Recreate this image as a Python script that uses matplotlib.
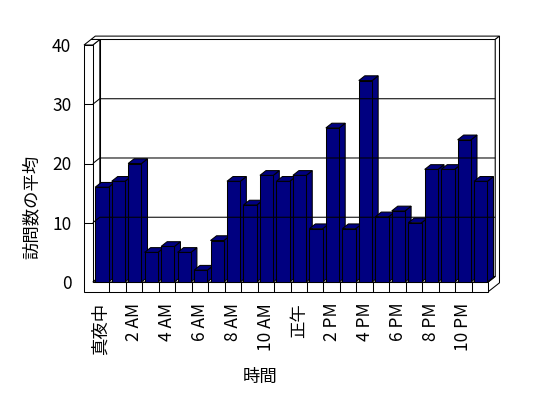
import matplotlib
matplotlib.use('Agg')
import matplotlib.pyplot as plt
from matplotlib.patches import Polygon

plt.rcParams['font.family'] = ['Noto Sans CJK JP', 'DejaVu Sans']

# データ (時間ごとの訪問数の平均)
hours = list(range(24))
visits = [16, 17, 20, 5, 6, 5, 2, 7, 17, 13, 18, 17,
          18, 9, 26, 9, 34, 11, 12, 10, 19, 19, 24, 17]
tick_pos = list(range(0, 24, 2))
tick_labels = ['真夜中', '2 AM', '4 AM', '6 AM', '8 AM', '10 AM',
               '正午', '2 PM', '4 PM', '6 PM', '8 PM', '10 PM']
y_ticks = [0, 10, 20, 30, 40]

W, H = 548, 398
fig = plt.figure(figsize=(W / 100, H / 100), dpi=100)
ax = fig.add_axes([92.8 / W, 1 - 282 / H, 395.4 / W, 237 / H])
ax.set_xlim(-0.5, 23.5)
ax.set_ylim(0, 40)

# 疑似3Dの奥行き (データ単位)
DX, DY = 0.425, 0.93      # 前面 -> 背面の壁
TX, TY = 0.26, 0.57       # 壁の厚み
WALL = 0.534              # 左の壁の厚み
FLOOR = 1.64              # 床の厚み
BAR_L, BAR_R = -0.354, 0.455
BX, BY = 0.365, 0.80      # 棒の奥行き

x0, x1, x2 = -0.5 - WALL, -0.5, 23.5
ytop, ybot = y_ticks[-1], -FLOOR
LW = 0.75


def face(pts, color='white'):
    ax.add_patch(Polygon(pts, closed=True, facecolor=color, edgecolor='black',
                         linewidth=LW, clip_on=False, joinstyle='miter'))


def line(xs, ys):
    ax.plot(xs, ys, color='black', linewidth=LW, clip_on=False,
            solid_capstyle='butt')


# 背面の壁
face([(x1 + DX, DY), (x2 + DX, DY), (x2 + DX, ytop + DY), (x1 + DX, ytop + DY)])
face([(x0 + DX, ytop + DY), (x2 + DX, ytop + DY),
      (x2 + DX + TX, ytop + DY + TY), (x0 + DX + TX, ytop + DY + TY)])
# 右側面 (床 + 壁)
face([(x2, 0), (x2, ybot), (x2 + DX + TX, ybot + DY + TY),
      (x2 + DX + TX, ytop + DY + TY), (x2 + DX, ytop + DY), (x2 + DX, DY)])
# 左の壁
face([(x1, 0), (x1, ytop), (x1 + DX, ytop + DY), (x1 + DX, DY)])
face([(x0, ytop), (x1, ytop), (x1 + DX, ytop + DY), (x0 + DX, ytop + DY)])
# 前面 (左の壁 + 床)
face([(x0, ytop), (x1, ytop), (x1, 0), (x2, 0), (x2, ybot), (x0, ybot)])
# 床の上面
face([(x1, 0), (x2, 0), (x2 + DX, DY), (x1 + DX, DY)])

# 目盛線
for v in y_ticks[1:-1]:
    line([x1, x1 + DX, x2 + DX], [v, v + DY, v + DY])
    line([x0, x1], [v, v])
for b in hours[:-1]:
    line([b + 0.5, b + 0.5], [0, ybot])

# 棒
navy = '#000080'
for k, v in zip(hours, visits):
    l, r = k + BAR_L, k + BAR_R
    face([(r, 0), (r + BX, BY), (r + BX, v + BY), (r, v)], navy)
    face([(l, 0), (r, 0), (r, v), (l, v)], navy)
    face([(l, v), (r, v), (r + BX, v + BY), (l + BX, v + BY)], navy)

for s in ax.spines.values():
    s.set_visible(False)
ax.patch.set_visible(False)

ax.set_yticks(y_ticks)
ax.set_yticklabels([str(v) for v in y_ticks])
ax.set_xticks(tick_pos)
ax.set_xticklabels(tick_labels, rotation=90)
ax.tick_params(axis='y', length=0, pad=15.5, labelsize=12.5)
ax.tick_params(axis='x', length=0, pad=15, labelsize=12.5)

ax.set_ylabel('訪問数の平均', fontsize=12.5, va='center')
ax.yaxis.set_label_coords(-0.154, 0.316)
ax.set_xlabel('時間', fontsize=12.5, va='center')
ax.xaxis.set_label_coords(0.423, -0.40)

fig.savefig('out.png', dpi=100)
